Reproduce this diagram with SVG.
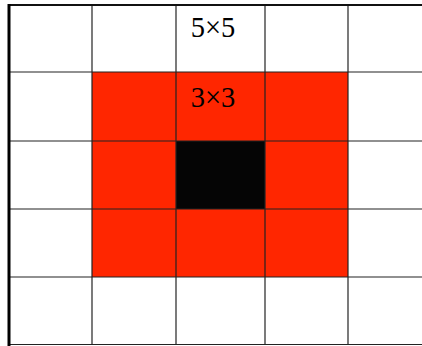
<svg xmlns="http://www.w3.org/2000/svg" width="422" height="346" viewBox="0 0 422 346">
<style>
.g{stroke:#222;stroke-width:1.2;fill:none}
.t{font-family:"Liberation Serif",serif;font-size:28.5px;fill:#000;text-anchor:middle}
</style>
<rect width="422" height="346" fill="#fff"/>
<g id="cells3x3">
<rect x="92" y="72" width="256" height="205" fill="#ff2600"/>
</g>
<g id="center">
<rect x="176" y="141" width="89" height="68" fill="#050505"/>
</g>
<g id="grid">
<line class="g" x1="92" y1="5" x2="92" y2="345"/>
<line class="g" x1="176" y1="5" x2="176" y2="345"/>
<line class="g" x1="265" y1="5" x2="265" y2="345"/>
<line class="g" x1="348" y1="5" x2="348" y2="345"/>
<line class="g" x1="9" y1="72" x2="422" y2="72"/>
<line class="g" x1="9" y1="141" x2="422" y2="141"/>
<line class="g" x1="9" y1="209" x2="422" y2="209"/>
<line class="g" x1="9" y1="277" x2="422" y2="277"/>
<line class="g" x1="9" y1="344.5" x2="422" y2="344.5"/>
<line x1="8" y1="5" x2="422" y2="5" stroke="#111" stroke-width="2"/>
<line x1="9" y1="4" x2="9" y2="346" stroke="#000" stroke-width="3"/>
</g>
<g id="labels">
<text class="t" x="213" y="37">5×5</text>
<text class="t" x="213" y="107">3×3</text>
</g>
</svg>
